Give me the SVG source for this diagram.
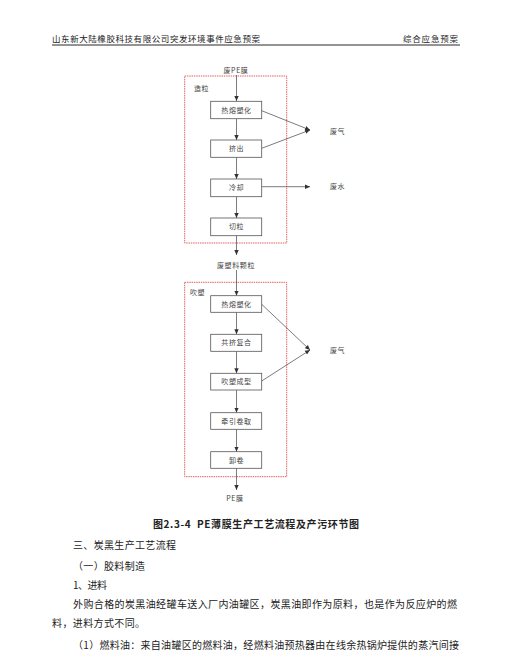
<svg xmlns="http://www.w3.org/2000/svg" width="508" height="669" viewBox="0 0 508 669">
<defs>
<marker id="ah" markerWidth="6" markerHeight="6" refX="5" refY="3" orient="auto" markerUnits="userSpaceOnUse">
<path d="M0,0.8 L5,3 L0,5.2 Z" fill="#333"/>
</marker>
<style>
.t{font-family:"Noto Sans CJK SC","Noto Sans",sans-serif;fill:#222}
.d{font-family:"Noto Sans CJK SC","Noto Sans",sans-serif;font-size:7px;letter-spacing:0.6px;fill:#444;text-anchor:middle}
.l{font-family:"Noto Sans CJK SC","Noto Sans",sans-serif;font-size:7px;letter-spacing:0.6px;fill:#444}
.box{fill:#fff;stroke:#555;stroke-width:0.8}
.red{fill:none;stroke:#e05050;stroke-width:0.9;stroke-dasharray:1.5,0.8}
.c{stroke:#444;stroke-width:0.7;fill:none;marker-end:url(#ah)}
</style>
</defs>
<rect width="508" height="669" fill="#fff"/>
<g id="header">
<text class="t" x="52" y="42" font-size="8.5" textLength="208" lengthAdjust="spacing">山东新大陆橡胶科技有限公司突发环境事件应急预案</text>
<text class="t" x="403" y="42" font-size="8.5" textLength="55" lengthAdjust="spacing">综合应急预案</text>
<line x1="52" y1="45" x2="460" y2="45" stroke="#111" stroke-width="0.9"/>
</g>
<g id="groups">
<rect id="g1" class="red" x="184.7" y="76" width="102" height="167"/>
<text class="l" x="194" y="91">造粒</text>
<rect id="g2" class="red" x="184.7" y="282.3" width="102" height="194.4"/>
<text class="l" x="190" y="295">吹塑</text>
</g>
<g id="connectors">
<line class="c" x1="236.5" y1="75" x2="236.5" y2="101"/>
<line class="c" x1="236.5" y1="118.7" x2="236.5" y2="140"/>
<line class="c" x1="236.5" y1="157.3" x2="236.5" y2="179"/>
<line class="c" x1="236.5" y1="196.7" x2="236.5" y2="218"/>
<line class="c" x1="236.5" y1="235.7" x2="236.5" y2="255"/>
<line class="c" x1="236.5" y1="270" x2="236.5" y2="295.7"/>
<line class="c" x1="236.5" y1="312.3" x2="236.5" y2="334.3"/>
<line class="c" x1="236.5" y1="351.3" x2="236.5" y2="373.3"/>
<line class="c" x1="236.5" y1="390" x2="236.5" y2="412.7"/>
<line class="c" x1="236.5" y1="429.3" x2="236.5" y2="451.7"/>
<line class="c" x1="236.5" y1="468.3" x2="236.5" y2="490"/>
<line class="c" x1="261.7" y1="110.7" x2="310" y2="130"/>
<line class="c" x1="261.7" y1="148.3" x2="310" y2="130"/>
<line class="c" x1="261.7" y1="186.7" x2="310" y2="186.7"/>
<line class="c" x1="261.7" y1="304.3" x2="310" y2="350"/>
<line class="c" x1="261.7" y1="381" x2="310" y2="350"/>
</g>
<g id="n_in"><text class="d" x="236" y="73">废PE膜</text></g>
<g id="n1"><rect class="box" x="210.7" y="101.3" width="51" height="17.4"/><text class="d" x="236.5" y="112.6">热熔塑化</text></g>
<g id="n2"><rect class="box" x="210.7" y="140" width="51" height="17.3"/><text class="d" x="236.5" y="151.2">挤出</text></g>
<g id="n3"><rect class="box" x="210.7" y="179" width="51" height="17.7"/><text class="d" x="236.5" y="190.4">冷却</text></g>
<g id="n4"><rect class="box" x="210.7" y="218" width="51" height="17.7"/><text class="d" x="236.5" y="229.4">切粒</text></g>
<g id="n_mid"><text class="d" x="236" y="268.3">废塑料颗粒</text></g>
<g id="n5"><rect class="box" x="210.7" y="295.7" width="51" height="16.6"/><text class="d" x="236.5" y="306.5">热熔塑化</text></g>
<g id="n6"><rect class="box" x="210.7" y="334.3" width="51" height="17"/><text class="d" x="236.5" y="345.3">共挤复合</text></g>
<g id="n7"><rect class="box" x="210.7" y="373.3" width="51" height="16.7"/><text class="d" x="236.5" y="384.2">吹塑成型</text></g>
<g id="n8"><rect class="box" x="210.7" y="412.7" width="51" height="16.6"/><text class="d" x="236.5" y="423.5">牵引卷取</text></g>
<g id="n9"><rect class="box" x="210.7" y="451.7" width="51" height="16.6"/><text class="d" x="236.5" y="462.5">卸卷</text></g>
<g id="n_out"><text class="d" x="235" y="500.5">PE膜</text></g>
<g id="p1"><text class="l" x="330" y="133.5">废气</text></g>
<g id="p2"><text class="l" x="330" y="189.2">废水</text></g>
<g id="p3"><text class="l" x="330" y="352.5">废气</text></g>
<g id="caption">
<text class="t" x="153" y="527.5" font-size="10" font-weight="bold" textLength="206" lengthAdjust="spacing">图2.3-4&#160;&#160;PE薄膜生产工艺流程及产污环节图</text>
</g>
<g id="body" font-size="10">
<text class="t" x="73" y="549.3" textLength="103" lengthAdjust="spacing">三、炭黑生产工艺流程</text>
<text class="t" x="73" y="569.6" textLength="72" lengthAdjust="spacing">（一）胶料制造</text>
<text class="t" x="73" y="588.6" textLength="34" lengthAdjust="spacing">1、进料</text>
<text class="t" x="73" y="607.9" textLength="384" lengthAdjust="spacing">外购合格的炭黑油经罐车送入厂内油罐区，炭黑油即作为原料，也是作为反应炉的燃</text>
<text class="t" x="52" y="626.6" textLength="93" lengthAdjust="spacing">料，进料方式不同。</text>
<text class="t" x="73" y="648.6" textLength="386" lengthAdjust="spacing">（1）燃料油：来自油罐区的燃料油，经燃料油预热器由在线余热锅炉提供的蒸汽间接</text>
</g>
</svg>
